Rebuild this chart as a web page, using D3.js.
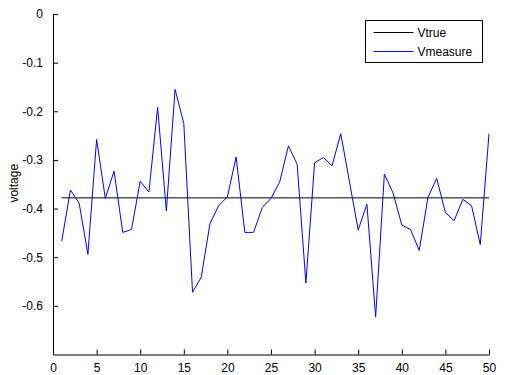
<!DOCTYPE html>
<html>
<head>
<meta charset="utf-8">
<script src="https://cdn.jsdelivr.net/npm/d3@7"></script>
<style>
  body { margin: 0; background: #fff; }
  svg text { font-family: "Liberation Sans", Arial, sans-serif; font-size: 12px; }
</style>
</head>
<body>
<div class="chart"></div>
<script>
// samples 1..50
var xs = d3.range(1, 51);
var vmeasure = [
  -0.467, -0.362, -0.389, -0.494, -0.258, -0.379, -0.323, -0.449, -0.443, -0.344,
  -0.366, -0.192, -0.405, -0.155, -0.225, -0.572, -0.541, -0.431, -0.394, -0.376,
  -0.294, -0.449, -0.449, -0.398, -0.379, -0.345, -0.271, -0.309, -0.553, -0.306,
  -0.295, -0.312, -0.246, -0.345, -0.444, -0.391, -0.623, -0.329, -0.368, -0.434,
  -0.443, -0.486, -0.377, -0.338, -0.408, -0.425, -0.381, -0.394, -0.474, -0.246
];
var vtrue = -0.378;
var xTicks = d3.range(0, 51, 5);
var yTicks = [0, -0.1, -0.2, -0.3, -0.4, -0.5, -0.6];
var legendLabels = ["Vtrue", "Vmeasure"];
var colors = ["#000000", "#0000ff"];

const width = 522, height = 375;
const margin = ({ top: 14, right: 33, bottom: 20, left: 53 });

var svg = d3.select(".chart").append("svg")
    .attr("width", width)
    .attr("height", height);

var x = d3.scaleLinear().domain([0, 50]).range([margin.left, width - margin.right]);
var y = d3.scaleLinear().domain([-0.7, 0]).range([height - margin.bottom - 0.5, margin.top]);

// axes (ticks point inward, MATLAB style)
var xAxis = svg.append("g")
    .attr("transform", `translate(0, ${y(-0.7)})`)
    .call(d3.axisBottom(x).tickValues(xTicks).tickSizeInner(-5).tickSizeOuter(0).tickPadding(9)
      .tickFormat(d3.format("d")));
var yAxis = svg.append("g")
    .attr("transform", `translate(${x(0)}, 0)`)
    .call(d3.axisLeft(y).tickValues(yTicks).tickSizeInner(-5).tickSizeOuter(0).tickPadding(10)
      .tickFormat(d => d === 0 ? "0" : d3.format(".1f")(d).replace("−", "-")));
[xAxis, yAxis].forEach(g => {
  g.selectAll("path, line").attr("stroke", "#000");
  g.selectAll("text").attr("fill", "#000").style("font-size", "12px");
});

svg.append("text")
    .attr("transform", `translate(18, ${(y(0) + y(-0.7)) / 2 - 1}) rotate(-90)`)
    .attr("text-anchor", "middle")
    .style("font-size", "12px")
    .text("voltage");

// Vtrue
svg.append("line")
    .attr("x1", x(1)).attr("x2", x(50))
    .attr("y1", y(vtrue)).attr("y2", y(vtrue))
    .attr("stroke", colors[0]);

// Vmeasure
var line = d3.line().x((d, i) => x(xs[i])).y(d => y(d));
svg.append("path")
    .datum(vmeasure)
    .attr("d", line)
    .attr("fill", "none")
    .attr("stroke", colors[1]);

// legend
var lg = svg.append("g").attr("transform", "translate(365.5, 20.5)");
lg.append("rect").attr("width", 117).attr("height", 42)
    .attr("fill", "#fff").attr("stroke", "#000");
legendLabels.forEach((name, i) => {
  var ly = 12 + i * 19;
  lg.append("line").attr("x1", 8).attr("x2", 48).attr("y1", ly).attr("y2", ly)
      .attr("stroke", colors[i]);
  lg.append("text").attr("x", 52).attr("y", ly + 4).style("font-size", "12px").text(name);
});
</script>
</body>
</html>
